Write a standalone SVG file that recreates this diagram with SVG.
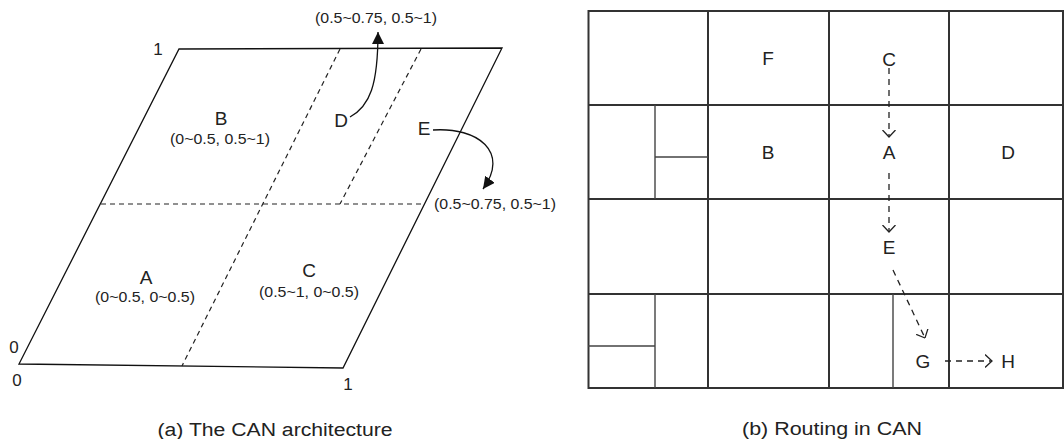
<svg xmlns="http://www.w3.org/2000/svg" width="1064" height="439" viewBox="0 0 1064 439">
<style>
text{font-family:"Liberation Sans",Arial,sans-serif;fill:#222}
.big{font-size:19px;text-anchor:middle}
.num{font-size:17px;text-anchor:middle}
.co{font-size:14px;text-anchor:middle}
.cap{font-size:18px;text-anchor:middle}
.edge{fill:none;stroke:#111;stroke-width:1.3}
.dash{fill:none;stroke:#222;stroke-width:1.2;stroke-dasharray:5 4}
.grid{fill:none;stroke:#333;stroke-width:2}
.sub{fill:none;stroke:#444;stroke-width:1.4}
.rt{fill:none;stroke:#222;stroke-width:1.3;stroke-dasharray:6 5}
.cur{fill:none;stroke:#111;stroke-width:1.3}
</style>
<defs>
<marker id="solid" viewBox="0 0 12 12" refX="12" refY="6" markerWidth="12" markerHeight="12" orient="auto" markerUnits="userSpaceOnUse"><path d="M0,0 L12,6 L0,12 z" fill="#111"/></marker>
<marker id="open" viewBox="0 0 8 14" refX="7.5" refY="7" markerWidth="8" markerHeight="14" orient="auto" markerUnits="userSpaceOnUse"><path d="M0.5,0.5 L7.5,7 L0.5,13.5" fill="none" stroke="#222" stroke-width="1.3" stroke-dasharray="none"/></marker>
</defs>

<g id="can-space">
<path class="edge" d="M179,49 L502,48 L343,368 L19,364 Z"/>
<path class="dash" d="M101,204 L425,204"/>
<path class="dash" d="M340,49 L182,366"/>
<path class="dash" d="M421,49 L340,204"/>
<text class="num" x="158" y="55">1</text>
<text class="num" x="14" y="353">0</text>
<text class="num" x="17" y="386">0</text>
<text class="num" x="348" y="390">1</text>
</g>

<g id="zone-B"><text class="big" x="221" y="125">B</text><text class="co" x="220" y="144" textLength="100" lengthAdjust="spacingAndGlyphs">(0~0.5, 0.5~1)</text></g>
<g id="zone-A"><text class="big" x="146" y="284">A</text><text class="co" x="145" y="302" textLength="100" lengthAdjust="spacingAndGlyphs">(0~0.5, 0~0.5)</text></g>
<g id="zone-C"><text class="big" x="309" y="277">C</text><text class="co" x="309" y="297" textLength="100" lengthAdjust="spacingAndGlyphs">(0.5~1, 0~0.5)</text></g>
<g id="node-D"><text class="big" x="341" y="127">D</text></g>
<g id="node-E"><text class="big" x="424" y="135">E</text></g>
<g id="label-D-zone"><text class="co" x="376" y="23" textLength="122" lengthAdjust="spacingAndGlyphs">(0.5~0.75, 0.5~1)</text></g>
<g id="label-E-zone"><text class="co" x="495" y="209" textLength="122" lengthAdjust="spacingAndGlyphs">(0.5~0.75, 0.5~1)</text></g>

<g id="grid">
<rect class="grid" x="588.5" y="11" width="474.5" height="377" stroke="#555"/>
<path class="grid" d="M588,105 H1064 M588,199 H1064 M588,294 H1064 M708,11 V388 M829,11 V388 M949,11 V388"/>
<path class="sub" d="M655,105 V199 M655,157 H708 M655,294 V388 M588,346 H655 M893,294 V388"/>
</g>

<g id="cell-F"><text class="big" x="768" y="65">F</text></g>
<g id="cell-C"><text class="big" x="889" y="66">C</text></g>
<g id="cell-B"><text class="big" x="768" y="159">B</text></g>
<g id="cell-A"><text class="big" x="889" y="159">A</text></g>
<g id="cell-D"><text class="big" x="1008" y="159">D</text></g>
<g id="cell-E"><text class="big" x="889" y="254">E</text></g>
<g id="cell-G"><text class="big" x="923" y="368">G</text></g>
<g id="cell-H"><text class="big" x="1008" y="368">H</text></g>

<g id="connectors">
<path class="cur" d="M350,117 C370,106 378,85 378,32" marker-end="url(#solid)"/>
<path class="cur" d="M433,130 C478,127 510,152 483,189" marker-end="url(#solid)"/>
<path class="rt" d="M889,68 V137" marker-end="url(#open)"/>
<path class="rt" d="M889,173 V232" marker-end="url(#open)"/>
<path class="rt" d="M893,270 L925,338" marker-end="url(#open)"/>
<path class="rt" d="M945,361 H992" marker-end="url(#open)"/>
</g>

<g id="captions">
<text class="cap" x="275" y="436" textLength="235" lengthAdjust="spacingAndGlyphs">(a) The CAN architecture</text>
<text class="cap" x="832" y="435" textLength="180" lengthAdjust="spacingAndGlyphs">(b) Routing in CAN</text>
</g>
</svg>
